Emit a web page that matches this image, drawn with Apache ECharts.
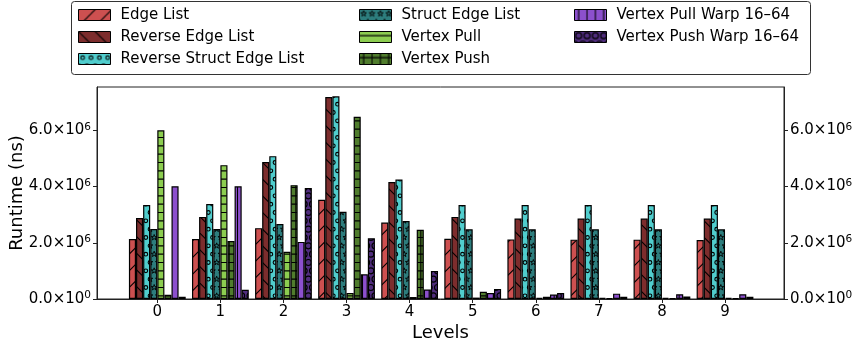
<!DOCTYPE html>
<html>
<head>
<meta charset="utf-8">
<script src="https://cdn.jsdelivr.net/npm/echarts@6/dist/echarts.min.js"></script>
<style>
  html, body { margin: 0; padding: 0; background: #fff; }
  #chart { width: 861px; height: 344px; }
</style>
</head>
<body>
<div id="chart"></div>
<script>
// Levels on the x axis
const levels = [0, 1, 2, 3, 4, 5, 6, 7, 8, 9];

// Runtime per level (ns)
const edgeList            = [2.13e6, 2.13e6, 2.52e6, 3.53e6, 2.72e6, 2.14e6, 2.12e6, 2.11e6, 2.11e6, 2.10e6];
const reverseEdgeList     = [2.88e6, 2.92e6, 4.87e6, 7.18e6, 4.16e6, 2.92e6, 2.86e6, 2.86e6, 2.86e6, 2.86e6];
const reverseStructEdge   = [3.34e6, 3.38e6, 5.08e6, 7.21e6, 4.25e6, 3.34e6, 3.34e6, 3.34e6, 3.34e6, 3.34e6];
const structEdgeList      = [2.49e6, 2.49e6, 2.67e6, 3.10e6, 2.77e6, 2.48e6, 2.48e6, 2.48e6, 2.48e6, 2.48e6];
const vertexPull          = [6.00e6, 4.76e6, 1.68e6, 0.21e6, 0.07e6, 0.05e6, 0.04e6, 0.04e6, 0.04e6, 0.04e6];
const vertexPush          = [0.15e6, 2.06e6, 4.05e6, 6.48e6, 2.46e6, 0.26e6, 0.08e6, 0.03e6, 0.03e6, 0.03e6];
const vertexPullWarp      = [4.01e6, 4.01e6, 2.03e6, 0.88e6, 0.34e6, 0.21e6, 0.16e6, 0.19e6, 0.17e6, 0.17e6];
const vertexPushWarp      = [0.08e6, 0.33e6, 3.95e6, 2.16e6, 1.00e6, 0.36e6, 0.21e6, 0.08e6, 0.09e6, 0.08e6];

const seriesNames = [
  'Edge List', 'Reverse Edge List', 'Reverse Struct Edge List', 'Struct Edge List',
  'Vertex Pull', 'Vertex Push', 'Vertex Pull Warp 16–64', 'Vertex Push Warp 16–64'
];
const seriesValues = [
  edgeList, reverseEdgeList, reverseStructEdge, structEdgeList,
  vertexPull, vertexPush, vertexPullWarp, vertexPushWarp
];
const seriesColors = [
  '#cd5050', '#7d2d2d', '#50cdcd', '#2d7d7d',
  '#8ccd50', '#507d2d', '#8c50cd', '#502d7d'
];
const seriesHatches = ['/', '\\', 'o', '*', '-', '+', '|', 'O'];

const yMax = 7.54e6;
const yStep = 2e6;

// ---- hatch textures (tile of 50px holds whole periods of every pattern) ----
const TILE = 50;
const FINE = TILE / 6;   // 8.33px spacing
const COARSE = TILE / 3; // 16.67px spacing

function starPath(ctx, cx, cy, r) {
  const inner = r * 0.38;
  ctx.beginPath();
  for (let k = 0; k < 10; k++) {
    const rad = k % 2 === 0 ? r : inner;
    const a = -Math.PI / 2 + k * Math.PI / 5;
    const px = cx + rad * Math.cos(a), py = cy + rad * Math.sin(a);
    if (k === 0) ctx.moveTo(px, py); else ctx.lineTo(px, py);
  }
  ctx.closePath();
}

function hatchTexture(base, kind) {
  const cv = document.createElement('canvas');
  cv.width = TILE; cv.height = TILE;
  const ctx = cv.getContext('2d');
  ctx.fillStyle = base;
  ctx.fillRect(0, 0, TILE, TILE);
  ctx.strokeStyle = '#000';
  ctx.lineWidth = 1.1;
  if (kind === '/' || kind === '\\') {
    for (let k = -4; k <= 8; k++) {
      const c = k * COARSE;
      ctx.beginPath();
      if (kind === '/') { ctx.moveTo(c + 60, -60); ctx.lineTo(c - 60, 60); }
      else { ctx.moveTo(c - 60, -60); ctx.lineTo(c + 60, 60); }
      ctx.stroke();
    }
  }
  if (kind === '-' || kind === '+') {
    for (let k = 0; k < 6; k++) {
      const y = FINE / 2 + k * FINE;
      ctx.beginPath(); ctx.moveTo(0, y); ctx.lineTo(TILE, y); ctx.stroke();
    }
  }
  if (kind === '|' || kind === '+') {
    for (let k = 0; k < 6; k++) {
      const x = FINE / 2 + k * FINE;
      ctx.beginPath(); ctx.moveTo(x, 0); ctx.lineTo(x, TILE); ctx.stroke();
    }
  }
  if (kind === 'o' || kind === 'O' || kind === '*') {
    const r = kind === 'o' ? 0.22 * FINE : 0.36 * FINE;
    for (let row = 0; row < 6; row++) {
      const y = FINE / 2 + row * FINE;
      const shift = row % 2 === 0 ? FINE / 2 : 0;
      for (let col = 0; col <= 6; col++) {
        const x = shift + col * FINE;
        if (kind === '*') { starPath(ctx, x, y, r); ctx.lineWidth = 0.9; ctx.stroke(); }
        else { ctx.beginPath(); ctx.arc(x, y, r, 0, Math.PI * 2); ctx.stroke(); }
      }
    }
  }
  return cv;
}

function sciLabel(v) {
  const e = v === 0 ? 0 : Math.floor(Math.log10(Math.abs(v)) + 1e-9);
  const m = (v / Math.pow(10, e)).toFixed(1);
  return '{m|' + m + '×10}{e|' + e + '}';
}

const labelRich = {
  m: { fontFamily: 'DejaVu Sans', fontSize: 15, color: '#000', lineHeight: 18 },
  e: { fontFamily: 'DejaVu Sans', fontSize: 10.5, color: '#000', lineHeight: 11, verticalAlign: 'top' }
};

const chart = echarts.init(document.getElementById('chart'), null, { renderer: 'canvas' });

const series = seriesNames.map((name, i) => ({
  name,
  type: 'bar',
  barWidth: '11.25%',
  barGap: '0%',
  itemStyle: {
    color: { image: hatchTexture(seriesColors[i], seriesHatches[i]), repeat: 'repeat' },
    borderColor: '#000',
    borderWidth: 1.2
  },
  emphasis: { disabled: true },
  data: levels.map((lv, j) => [lv, seriesValues[i][j]])
}));

const legendCommon = {
  orient: 'vertical',
  top: 4,
  padding: 0,
  itemWidth: 32,
  itemHeight: 11,
  itemGap: 0,
  icon: 'rect',
  selectedMode: false,
  itemStyle: { borderColor: '#000', borderWidth: 1 },
  textStyle: { fontFamily: 'DejaVu Sans', fontSize: 15, color: '#000', lineHeight: 22, padding: [0, 0, 0, 5] }
};

const axisFont = { fontFamily: 'DejaVu Sans', fontSize: 15, color: '#000' };

chart.setOption({
  animation: false,
  backgroundColor: '#fff',
  graphic: [{
    type: 'rect',
    z: 0,
    shape: { x: 71.5, y: 1.5, width: 739, height: 73, r: 3 },
    style: { fill: '#fff', stroke: '#333', lineWidth: 1 }
  }],
  legend: [
    Object.assign({}, legendCommon, { left: 78, data: seriesNames.slice(0, 3) }),
    Object.assign({}, legendCommon, { left: 359, data: seriesNames.slice(3, 6) }),
    Object.assign({}, legendCommon, { left: 574, data: seriesNames.slice(6, 8) })
  ],
  grid: {
    left: 97, right: 77, top: 87, bottom: 45,
    outerBoundsMode: 'none',
    containLabel: false,
    show: true, borderColor: '#222', borderWidth: 1, backgroundColor: 'transparent'
  },
  xAxis: {
    type: 'value',
    min: -0.956,
    max: 9.935,
    name: 'Levels',
    nameLocation: 'middle',
    nameGap: 25,
    nameMoveOverlap: false,
    nameTextStyle: { fontFamily: 'DejaVu Sans', fontSize: 18, color: '#000' },
    axisLine: { show: true, onZero: false, lineStyle: { color: '#222', width: 1 } },
    axisTick: { show: true, length: 4, customValues: levels, lineStyle: { color: '#222' } },
    axisLabel: Object.assign({ customValues: levels, margin: 6, formatter: v => String(v) }, axisFont),
    splitLine: { show: false }
  },
  yAxis: [
    {
      type: 'value',
      min: 0, max: yMax, interval: yStep,
      position: 'left',
      name: 'Runtime (ns)',
      nameLocation: 'middle',
      nameGap: 71,
      nameMoveOverlap: false,
      nameTextStyle: { fontFamily: 'DejaVu Sans', fontSize: 18, color: '#000' },
      axisLine: { show: true, onZero: false, lineStyle: { color: '#222' } },
      axisTick: { show: true, length: 4, lineStyle: { color: '#222' } },
      axisLabel: { margin: 6, formatter: sciLabel, rich: labelRich, showMaxLabel: false },
      splitLine: { show: false }
    },
    {
      type: 'value',
      min: 0, max: yMax, interval: yStep,
      position: 'right',
      axisLine: { show: true, onZero: false, lineStyle: { color: '#222' } },
      axisTick: { show: true, length: 4, lineStyle: { color: '#222' } },
      axisLabel: { margin: 6, formatter: sciLabel, rich: labelRich, showMaxLabel: false },
      splitLine: { show: false }
    }
  ],
  series
});
</script>
</body>
</html>
